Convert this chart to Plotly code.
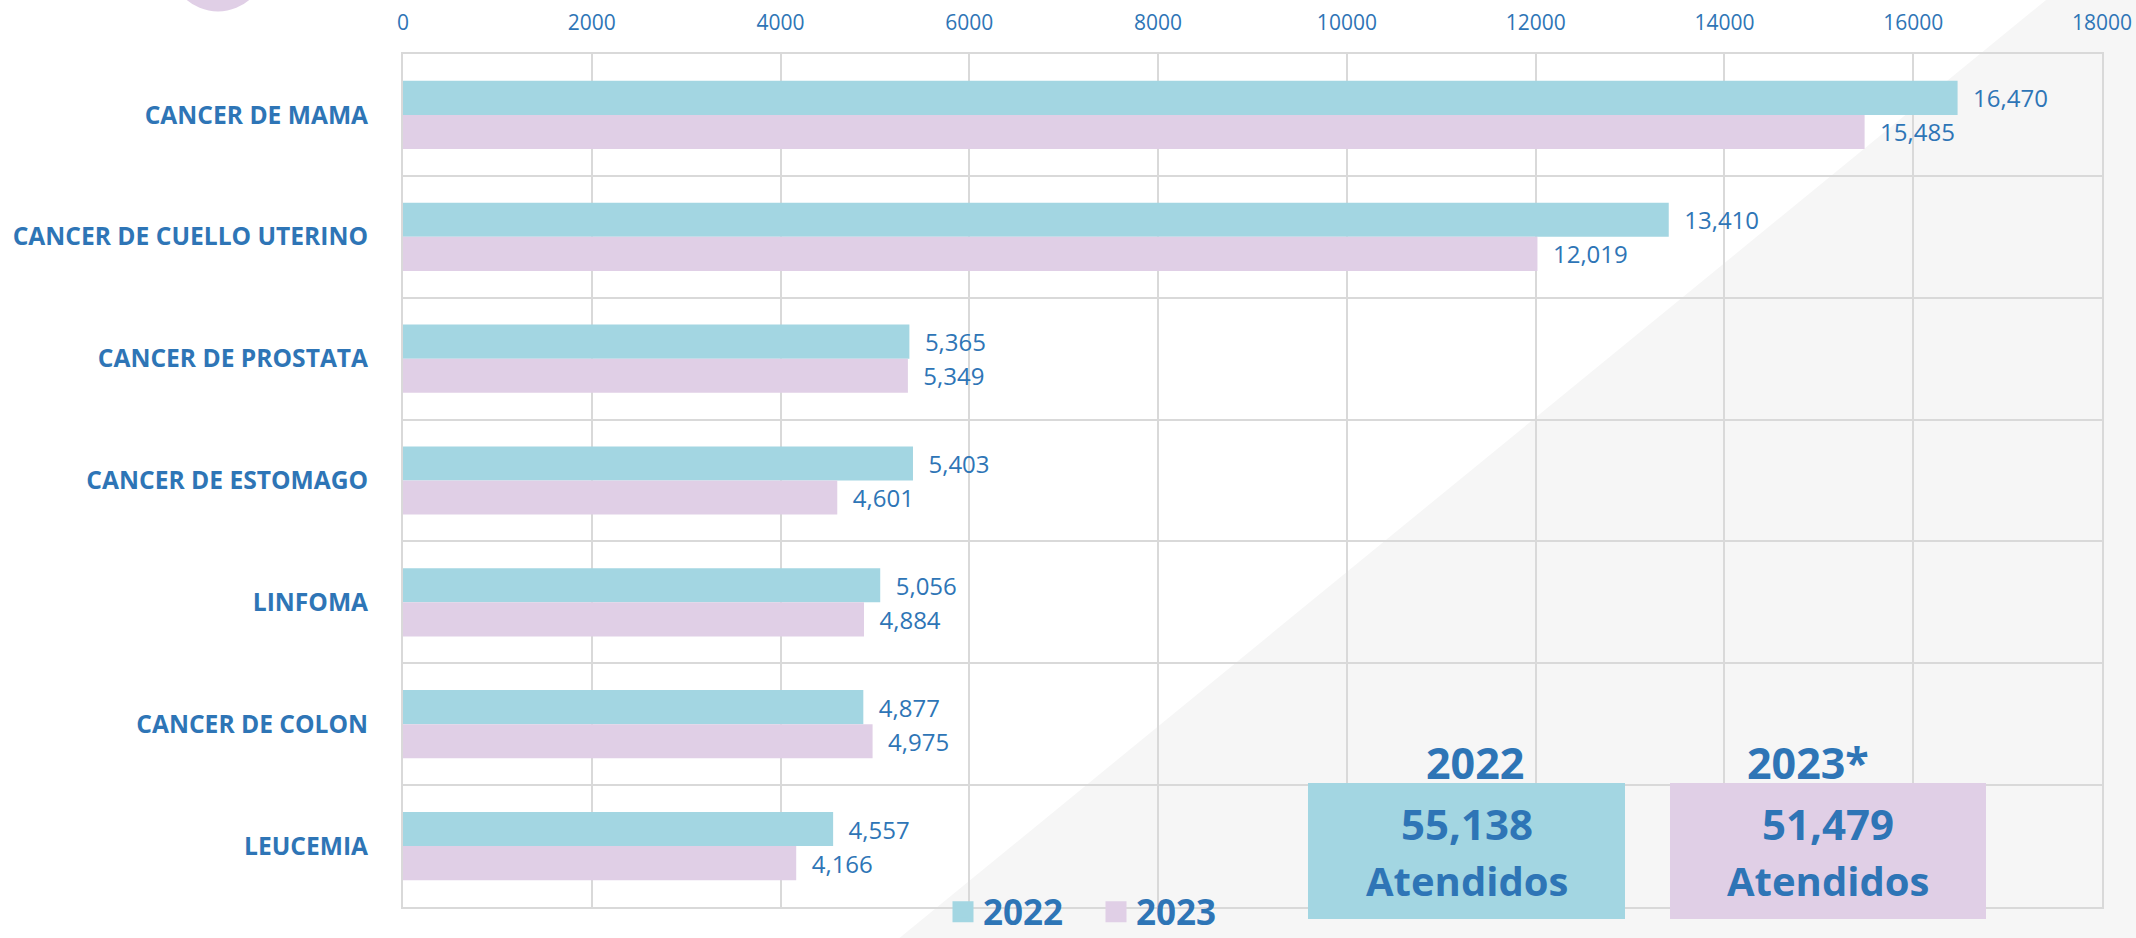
import plotly.graph_objects as go

categories = ["CANCER DE MAMA", "CANCER DE CUELLO UTERINO", "CANCER DE PROSTATA",
              "CANCER DE ESTOMAGO", "LINFOMA", "CANCER DE COLON", "LEUCEMIA"]
values_2022 = [16470, 13410, 5365, 5403, 5056, 4877, 4557]
values_2023 = [15485, 12019, 5349, 4601, 4884, 4975, 4166]
series_names = ["2022", "2023"]
box_titles = ["2022", "2023*"]
box_unit = "Atendidos"

W, H = 2136, 938
L, R, T, B = 403, 2102, 54, 907
BLUE = "#2E75B6"
C22 = "#A3D6E2"
C23 = "#E0CFE6"
GRID = "#D9D9D9"
FONT = "Open Sans"


def px(x):
    return (x - L) / (R - L)


def py(y):
    return (B - y) / (B - T)


fig = go.Figure()
for name, vals, col in [(series_names[0], values_2022, C22), (series_names[1], values_2023, C23)]:
    fig.add_trace(go.Bar(
        name=name, y=categories, x=vals, orientation="h",
        marker=dict(color=col, line=dict(width=0)),
        texttemplate="\u00a0\u00a0%{x:,}", textposition="outside",
        textfont=dict(family=FONT, size=24, color=BLUE),
        constraintext="none", cliponaxis=False, showlegend=False,
    ))
# legend entries (larger square swatches than the default bar icon)
for name, col in [(series_names[0], C22), (series_names[1], C23)]:
    fig.add_trace(go.Scatter(
        name=name, x=[None], y=[None], mode="markers",
        marker=dict(symbol="square", size=16, color=col, line=dict(color=col, width=5)),
        hoverinfo="skip", showlegend=True,
    ))

shapes = []
# light grey diagonal background
shapes.append(dict(type="path", xref="paper", yref="paper", layer="below",
                   path=f"M {px(2046)} {py(0)} L {px(2200)} {py(0)} L {px(2200)} {py(940)} L {px(897)} {py(940)} Z",
                   fillcolor="#F6F6F6", line=dict(width=0)))
# decorative purple circle top-left
shapes.append(dict(type="circle", xref="paper", yref="paper", layer="below",
                   x0=px(170), x1=px(266), y0=py(11.5), y1=py(-84),
                   fillcolor=C23, line=dict(width=0)))

annotations = []
totals = [sum(values_2022), sum(values_2023)]
boxes = [(1308, 1625, C22, 1475), (1670, 1986, C23, 1808)]
for (x0, x1, col, tx), title, tot in zip(boxes, box_titles, totals):
    shapes.append(dict(type="rect", xref="paper", yref="paper", layer="above",
                       x0=px(x0), x1=px(x1), y0=py(919), y1=py(783),
                       fillcolor=col, line=dict(width=0)))
    cx = px((x0 + x1) / 2)
    annotations.append(dict(xref="paper", yref="paper", x=px(tx), y=py(762), xanchor="center", yanchor="middle",
                            text=f"<b>{title}</b>", showarrow=False,
                            font=dict(family=FONT, size=43, color=BLUE)))
    annotations.append(dict(xref="paper", yref="paper", x=cx, y=py(823), xanchor="center", yanchor="middle",
                            text=f"<b>{tot:,}</b>", showarrow=False,
                            font=dict(family=FONT, size=42, color=BLUE)))
    annotations.append(dict(xref="paper", yref="paper", x=cx, y=py(880), xanchor="center", yanchor="middle",
                            text=f"<b>{box_unit}</b>", showarrow=False,
                            font=dict(family=FONT, size=40, color=BLUE)))

fig.update_layout(
    width=W, height=H,
    margin=dict(l=L, r=W - R, t=T, b=H - B, autoexpand=False),
    paper_bgcolor="white", plot_bgcolor="rgba(0,0,0,0)",
    barmode="group", bargap=0.44, bargroupgap=0,
    shapes=shapes, annotations=annotations,
    legend=dict(orientation="h", x=px(943), xanchor="left", y=py(912), yanchor="middle",
                entrywidth=108, entrywidthmode="pixels", itemsizing="trace",
                font=dict(family=FONT, size=35, color=BLUE, weight="bold"),
                bgcolor="rgba(0,0,0,0)", traceorder="normal"),
    xaxis=dict(side="top", range=[0, 18000], dtick=2000, tickformat="d",
               showgrid=True, gridcolor=GRID, gridwidth=2, zeroline=False,
               showline=True, mirror=True, linecolor=GRID, linewidth=2,
               ticks="", ticklabelstandoff=14,
               tickfont=dict(family=FONT, size=21, color=BLUE)),
    yaxis=dict(type="category", categoryorder="array", categoryarray=categories,
               autorange="reversed", tickson="boundaries",
               showgrid=True, gridcolor=GRID, gridwidth=2,
               showline=True, mirror=True, linecolor=GRID, linewidth=2,
               ticks="", ticklabelstandoff=28,
               tickfont=dict(family=FONT, size=24.6, color=BLUE, weight="bold")),
)

fig.write_html("out.html", config={"displayModeBar": False},
               post_script="document.body.style.margin='0';")
